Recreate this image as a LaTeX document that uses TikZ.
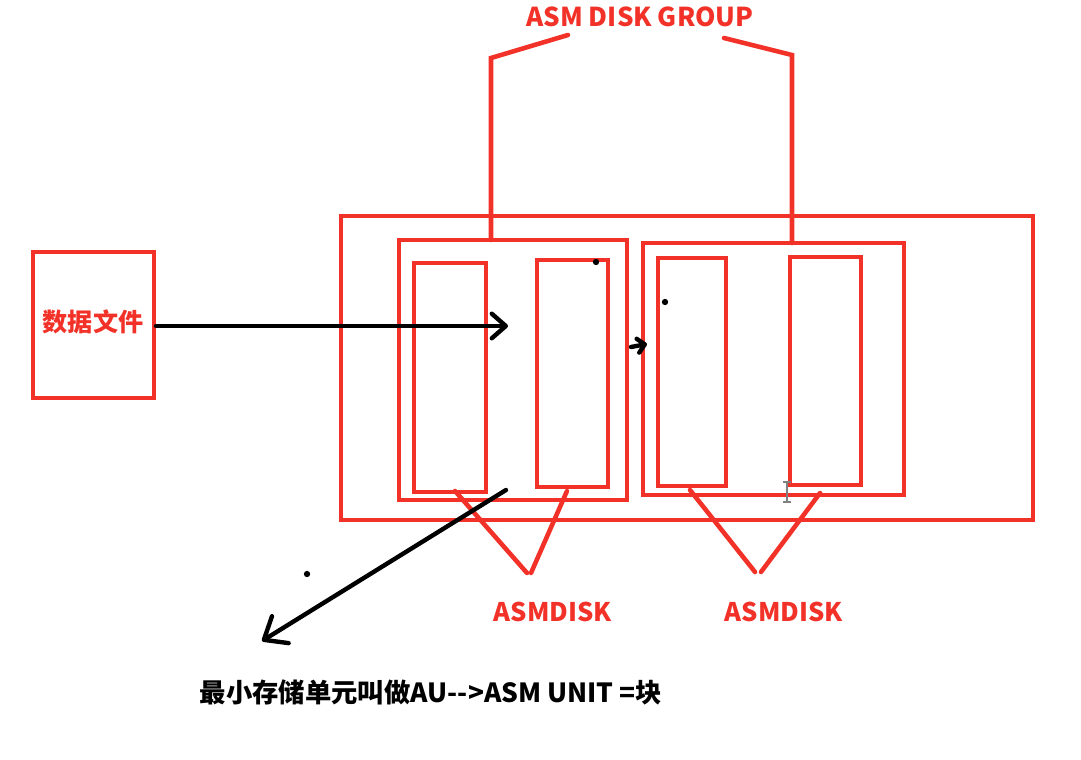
\documentclass[tikz,border=0pt]{standalone}
\usepackage{fontspec}
\newfontfamily\cjk{Noto Sans CJK SC}
\usetikzlibrary{arrows.meta}
\definecolor{rd}{RGB}{242,50,40}
\tikzset{
  box/.style={draw=rd, line width=2.6pt, inner sep=0pt, fill=none},
  redline/.style={draw=rd, line width=2.6pt, line cap=round},
  blk/.style={draw=black, line width=2.5pt, line cap=round},
  redtxt/.style={text=rd, font=\cjk\bfseries\fontsize{14.6}{16}\selectfont, inner sep=0pt},
  dotmark/.style={circle, fill=black, inner sep=0pt, minimum size=3.6pt}
}
\begin{document}
\begin{tikzpicture}[x=0.02cm, y=-0.02cm]
\useasboundingbox (0,0) rectangle (1081,760);
% boxes
\node[box, minimum width=121*0.02cm, minimum height=146*0.02cm] (df) at (93.5,325) {};
\node[redtxt, font=\cjk\bfseries\fontsize{14.3}{16}\selectfont] (dft) at (93,322) {数据文件};
\node[box, minimum width=692*0.02cm, minimum height=304*0.02cm] (outer) at (687,368) {};
\node[box, minimum width=228*0.02cm, minimum height=260*0.02cm] (g1) at (513,370) {};
\node[box, minimum width=261*0.02cm, minimum height=252*0.02cm] (g2) at (773.5,369) {};
\node[box, minimum width=72*0.02cm, minimum height=229*0.02cm] (d1) at (450,377.5) {};
\node[box, minimum width=71*0.02cm, minimum height=227*0.02cm] (d2) at (572.5,373.5) {};
\node[box, minimum width=68*0.02cm, minimum height=228*0.02cm] (d3) at (692,372) {};
\node[box, minimum width=71*0.02cm, minimum height=228*0.02cm] (d4) at (825.5,371) {};
% top bracket
\node[redtxt, font=\cjk\bfseries\fontsize{14.8}{18}\selectfont] (grp) at (640,17) {ASM DISK GROUP};
\coordinate (bl0) at (491,240);
\coordinate (bl1) at (491,58);
\coordinate (bl2) at (568,35);
\coordinate (br0) at (792,243);
\coordinate (br1) at (792,55);
\coordinate (br2) at (724,38);
\draw[redline] (bl0) -- (bl1) -- (bl2);
\draw[redline] (br0) -- (br1) -- (br2);
% asmdisk triangles
\coordinate (a1) at (455,491);
\coordinate (a2) at (567,491);
\coordinate (t1a) at (527,573);
\coordinate (t1b) at (531,573);
\coordinate (a3) at (690,490);
\coordinate (a4) at (820,493);
\coordinate (t2a) at (755,572);
\coordinate (t2b) at (761,572);
\draw[redline] (a1) -- (t1a);
\draw[redline] (a2) -- (t1b);
\draw[redline] (a3) -- (t2a);
\draw[redline] (a4) -- (t2b);
\node[redtxt] (l1) at (553,612) {ASMDISK};
\node[redtxt] (l2) at (784,612) {ASMDISK};
% black arrows
\coordinate (p0) at (156,326);
\coordinate (p1) at (508,326);
\draw[blk, -{Straight Barb[round, length=8pt, width=14pt]}] (p0) -- (p1);
\coordinate (q0) at (631,347);
\coordinate (q1) at (647,344);
\draw[blk, -{Straight Barb[round, length=4pt, width=8pt]}] (q0) -- (q1);
\coordinate (r0) at (506,490);
\coordinate (r1) at (262,641);
\draw[blk, -{Straight Barb[round, length=11pt, width=18pt]}] (r0) -- (r1);
% dots
\node[dotmark] (dot1) at (596,262) {};
\node[dotmark] (dot2) at (665,302) {};
\node[dotmark] (dot3) at (307,574) {};
% cursor
\draw[gray, line width=0.8pt] (787,482) -- (787,502) (783,482) -- (791,482) (783,502) -- (791,502);
% bottom text
\node[font=\cjk\bfseries\fontsize{15}{18}\selectfont, inner sep=0pt] (note) at (431,692) {最小存储单元叫做AU-->ASM UNIT =块};
\end{tikzpicture}
\end{document}
